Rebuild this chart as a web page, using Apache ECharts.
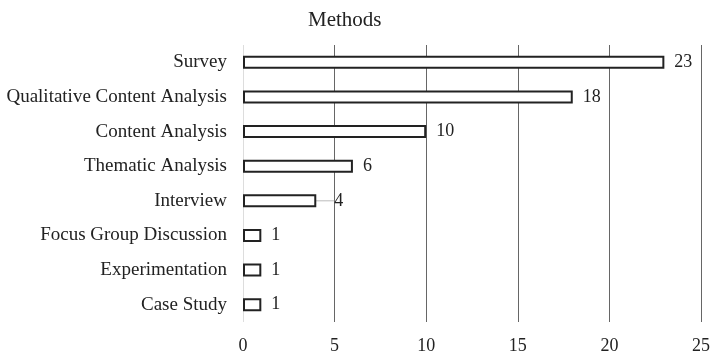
<!DOCTYPE html>
<html>
<head>
<meta charset="utf-8">
<script src="https://cdn.jsdelivr.net/npm/echarts@6/dist/echarts.min.js"></script>
<style>
  html, body { margin: 0; padding: 0; background: #fff; }
  #chart { width: 713px; height: 355px; }
</style>
</head>
<body>
<div id="chart"></div>
<script>
// categories from bottom to top (echarts category y axis starts at the bottom)
const methods = ['Case Study', 'Experimentation', 'Focus Group Discussion', 'Interview',
  'Thematic Analysis', 'Content Analysis', 'Qualitative Content Analysis', 'Survey'];
const counts = [1, 1, 1, 4, 6, 10, 18, 23];
const xTicks = [0, 5, 10, 15, 20, 25];

const font = 'Liberation Serif';

// the "4" label sits a bit away from its bar, joined by a thin leader line
const barData = counts.map(function (v, i) {
  if (i === 3) {
    return { value: v, labelLine: { show: true, lineStyle: { color: '#bbb', width: 1 } } };
  }
  return v;
});

var myChart = echarts.init(document.getElementById('chart'));
var option = {
  animation: false,
  title: {
    text: 'Methods',
    left: 303,
    top: 5,
    textStyle: { fontFamily: font, fontSize: 21, fontWeight: 'normal', color: '#222' }
  },
  grid: { left: 243, right: 10, top: 45, bottom: 30 },
  xAxis: {
    type: 'value',
    min: xTicks[0],
    max: xTicks[xTicks.length - 1],
    interval: 5,
    axisLine: { show: false },
    axisTick: { show: false },
    axisLabel: { fontFamily: font, fontSize: 18, color: '#222', margin: 15 },
    splitLine: {
      lineStyle: {
        color: ['#dddddd', '#666', '#666', '#666', '#666', '#666'],
        width: 1
      }
    }
  },
  yAxis: {
    type: 'category',
    data: methods,
    axisLine: { show: false },
    axisTick: { show: false },
    axisLabel: { fontFamily: font, fontSize: 19, color: '#222', margin: 16 }
  },
  series: [{
    type: 'bar',
    data: barData,
    barWidth: 13,
    itemStyle: { color: '#fff', borderColor: '#222', borderWidth: 2 },
    label: {
      show: true,
      position: 'right',
      distance: 10,
      fontFamily: font,
      fontSize: 18,
      color: '#222'
    },
    labelLayout: function (params) {
      if (params.dataIndex === 3) return { dx: 8 };
      return {};
    }
  }]
};
myChart.setOption(option);
</script>
</body>
</html>
